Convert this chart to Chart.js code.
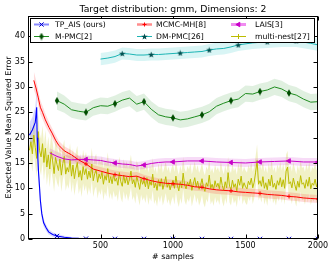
<!DOCTYPE html>
<html><head><meta charset="utf-8">
<script src="https://cdn.jsdelivr.net/npm/chart.js@4"></script>
<style>html,body{margin:0;padding:0;background:#fff}</style>
</head><body>
<canvas id="c" width="332" height="265"></canvas>
<script>
// ---------- DATA ----------
const xTicks = [500, 1000, 1500, 2000];
const yTicks = [0, 5, 10, 15, 20, 25, 30, 35, 40];
const seriesNames = ['TP_AIS (ours)', 'MCMC-MH[8]', 'LAIS[3]', 'M-PMC[2]', 'DM-PMC[26]', 'multi-nest[27]'];
const titleText = 'Target distribution: gmm, Dimensions: 2';
const xLabel = '# samples';
const yLabel = 'Expected Value Mean Squared Error';

const tpX   = [10, 30, 50, 60, 63, 68, 73, 80, 85, 95, 108, 125, 142, 170, 200, 250, 300, 350, 400, 500, 600, 800, 1000, 1200, 1400, 1600, 1800, 2000];
const tpY   = [20.5, 21.5, 23, 26, 20, 16, 13, 10, 7.7, 5, 3.2, 2.2, 1.4, 0.9, 0.6, 0.35, 0.2, 0.12, 0.08, 0.05, 0.04, 0.03, 0.03, 0.02, 0.02, 0.02, 0.02, 0.02];
const tpStd = [2.5, 2.5, 3, 3.5, 3, 2.5, 2, 1.6, 1.3, 1, 0.8, 0.6, 0.5, 0.45, 0.4, 0.3, 0.2, 0.15, 0.1, 0.06, 0.05, 0.04, 0.04, 0.03, 0.03, 0.03, 0.03, 0.03];
const tpMarks = [200, 400, 600, 800, 1000, 1200, 1400, 1600, 1800, 2000];

const mhX   = [40, 55, 70, 85, 100, 120, 145, 166, 190, 212, 250, 300, 350, 400, 450, 500, 550, 600, 650, 700, 750, 800, 850, 900, 950, 1000, 1050, 1100, 1150, 1200, 1250, 1300, 1350, 1400, 1450, 1500, 1550, 1600, 1650, 1700, 1750, 1800, 1850, 1900, 1950, 2000];
const mhY   = [31.3, 29.8, 28, 26, 25, 23.5, 22, 20.9, 19.5, 18.5, 17.4, 16.6, 15.6, 14.8, 13.8, 13.4, 13.0, 12.7, 12.5, 12.3, 12.4, 11.9, 11.5, 11.2, 11.0, 10.9, 10.8, 10.6, 10.3, 10.2, 9.9, 9.7, 9.6, 9.5, 9.3, 9.2, 9.1, 9.0, 8.8, 8.7, 8.6, 8.4, 8.3, 8.1, 8.0, 7.9];
const mhStd = [1.8, 1.6, 1.5, 1.4, 1.3, 1.2, 1.1, 1.0, 1.0, 0.9, 0.9, 0.9, 0.8, 0.8, 0.8, 0.8, 0.8, 0.8, 0.8, 0.8, 0.8, 0.8, 0.8, 0.8, 0.8, 0.8, 0.8, 0.8, 0.8, 0.8, 0.8, 0.8, 0.8, 0.8, 0.8, 0.8, 0.8, 0.8, 0.8, 0.8, 0.8, 0.8, 0.8, 0.8, 0.8, 0.8];
const mhMarks = [200, 400, 600, 800, 1000, 1200, 1400, 1600, 1800, 2000];

const laisX   = [150, 200, 250, 300, 350, 400, 450, 500, 550, 600, 650, 700, 750, 800, 850, 900, 950, 1000, 1100, 1200, 1300, 1400, 1500, 1600, 1700, 1800, 1900, 2000];
const laisY   = [17.0, 16.3, 15.8, 15.6, 15.7, 15.7, 15.6, 15.5, 15.2, 15.0, 14.8, 14.7, 14.4, 14.6, 14.9, 15.1, 15.2, 15.2, 15.4, 15.4, 15.2, 15.1, 15.0, 15.2, 15.3, 15.4, 15.2, 15.2];
const laisStd = [0.9, 0.9, 0.8, 0.8, 0.8, 0.8, 0.8, 0.8, 0.8, 0.8, 0.8, 0.8, 0.8, 0.8, 0.8, 0.8, 0.8, 0.8, 0.8, 0.8, 0.8, 0.8, 0.8, 0.8, 0.8, 0.8, 0.8, 0.8];
const laisMarks = [400, 600, 800, 1000, 1200, 1400, 1600, 1800, 2000];

const mpmcX   = [200, 250, 300, 350, 400, 450, 500, 550, 600, 650, 700, 750, 800, 850, 900, 950, 1000, 1050, 1100, 1150, 1200, 1250, 1300, 1350, 1400, 1450, 1500, 1550, 1600, 1650, 1700, 1750, 1800, 1850, 1900, 1950, 2000];
const mpmcY   = [27.3, 26.6, 25.5, 25.2, 25.0, 25.9, 26.3, 26.2, 26.7, 27.4, 27.8, 26.6, 27.1, 25.6, 24.5, 24.1, 23.9, 23.5, 23.7, 24.1, 24.5, 25.1, 26.2, 26.8, 27.3, 27.6, 28.7, 28.6, 29.1, 29.4, 30.0, 29.6, 28.8, 28.4, 27.6, 27.0, 27.1];
const mpmcStd = [1.8, 1.7, 1.6, 1.6, 1.6, 1.6, 1.6, 1.6, 1.6, 1.6, 1.6, 1.6, 1.6, 1.6, 1.6, 1.6, 1.6, 1.6, 1.6, 1.6, 1.6, 1.6, 1.6, 1.6, 1.6, 1.6, 1.6, 1.6, 1.6, 1.6, 1.6, 1.6, 1.6, 1.6, 1.6, 1.6, 1.6];
const mpmcMarks = [200, 400, 600, 800, 1000, 1200, 1400, 1600, 1800];

const dmX   = [500, 550, 600, 650, 700, 750, 800, 850, 900, 950, 1000, 1050, 1100, 1150, 1200, 1250, 1300, 1350, 1400, 1450, 1550, 1650, 1750, 1850, 1950, 2000];
const dmY   = [35.5, 35.7, 36.0, 36.6, 36.5, 36.3, 36.3, 36.4, 36.4, 36.5, 36.6, 36.7, 36.8, 36.9, 37.0, 37.3, 37.5, 37.6, 37.9, 38.3, 38.7, 38.9, 39.1, 39.1, 38.6, 38.3];
const dmStd = [1.2, 1.2, 1.2, 1.2, 1.2, 1.2, 1.2, 1.2, 1.2, 1.2, 1.2, 1.2, 1.2, 1.2, 1.2, 1.2, 1.2, 1.2, 1.2, 1.2, 1.2, 1.2, 1.2, 1.2, 1.2, 1.2];
const dmMarks = [650, 850, 1050, 1250, 1450, 1650, 1850];

// multi-nest: one value every 10 samples, from 10 to 2000
const mnStart = 10, mnStep = 10;
const mnY = [
 17.5, 19.2, 16.8, 20.5, 18.1, 15.9, 21.2, 17.4, 16.2, 18.8,
 15.1, 17.9, 14.2, 16.6, 13.8, 17.2, 15.4, 12.9, 16.1, 14.7,
 13.5, 15.8, 12.6, 14.9, 16.3, 12.8, 14.1, 13.2, 15.6, 12.4,
 14.6, 11.9, 13.8, 15.1, 12.2, 13.5, 11.6, 14.3, 12.7, 13.9,
 11.8, 13.4, 12.1, 14.8, 11.5, 12.9, 13.6, 11.2, 12.8, 11.9,
 13.2, 10.8, 12.5, 11.6, 13.9, 11.1, 12.3, 10.9, 12.7, 11.4,
 12.0, 10.6, 13.1, 11.3, 10.4, 12.6, 11.0, 12.2, 10.7, 11.8,
 13.4, 10.9, 11.7, 10.2, 12.4, 11.2, 9.8, 12.0, 10.8, 11.5,
 10.3, 12.1, 9.9, 11.4, 10.6, 12.8, 10.1, 11.0, 9.6, 11.7,
 10.4, 11.9, 9.8, 10.9, 12.3, 10.2, 11.1, 9.7, 10.8, 11.6,
 10.0, 12.4, 10.6, 9.5, 11.3, 10.1, 13.0, 10.7, 9.9, 11.2,
 10.5, 11.8, 9.6, 10.9, 12.1, 10.3, 11.4, 9.8, 10.6, 11.9,
 10.2, 9.4, 11.1, 10.4, 12.6, 10.0, 10.8, 9.7, 11.5, 10.3,
 11.0, 9.9, 12.2, 10.5, 9.6, 11.3, 10.1, 13.1, 10.4, 9.8,
 11.6, 10.2, 10.9, 9.5, 11.8, 10.6, 12.4, 10.0, 11.1, 10.3,
 9.9, 11.4, 10.7, 12.0, 10.1, 11.2, 13.2, 15.5, 10.8, 11.5,
 10.4, 12.3, 10.0, 11.1, 9.7, 11.8, 10.5, 12.6, 10.2, 11.0,
 9.8, 11.5, 10.6, 12.1, 10.3, 11.7, 10.0, 13.4, 14.2, 10.9,
 11.3, 10.1, 12.0, 10.7, 9.6, 11.4, 10.2, 12.5, 10.8, 11.1,
 10.0, 11.7, 10.4, 12.2, 9.9, 11.0, 10.6, 11.8, 10.3, 11.2
];
// std of multi-nest per block of 200 samples
const mnStdBlocks = [3.6, 3.3, 3.2, 3.2, 3.2, 3.2, 3.2, 3.2, 3.2, 3.2];
const mnMarks = [];

// ---------- BUILD ----------
const mnX = mnY.map((_, i) => mnStart + i * mnStep);
const mnStd = mnX.map(x => mnStdBlocks[Math.min(mnStdBlocks.length - 1, Math.floor((x - 1) / 200))]);

function makeImg(w, h, draw) {
  const c = document.createElement('canvas'); c.width = w; c.height = h;
  draw(c.getContext('2d')); return c;
}
const starImg = makeImg(7, 7, g => {
  g.fillStyle = '#004f4f'; g.beginPath();
  for (let i = 0; i < 10; i++) {
    const r = i % 2 ? 1.4 : 3.4, a = -Math.PI / 2 + i * Math.PI / 5;
    const px = 3.5 + r * Math.cos(a), py = 3.8 + r * Math.sin(a);
    i ? g.lineTo(px, py) : g.moveTo(px, py);
  }
  g.closePath(); g.fill();
});
const diamondImg = makeImg(6, 8, g => {
  g.fillStyle = '#004d00'; g.beginPath();
  g.moveTo(3, 0.3); g.lineTo(5.2, 4); g.lineTo(3, 7.7); g.lineTo(0.8, 4); g.closePath(); g.fill();
});

const series = [
  {name: seriesNames[0], xs: tpX, ys: tpY, sd: tpStd, marks: tpMarks, color: '#0000ff', band: 'rgba(0,0,255,0.15)', style: 'crossRot', r: 3, rot: 0, pc: '#0000cc', lw: 1.1, order: 0,
   legLine: '#8a8aff', legLw: 2},
  {name: seriesNames[1], xs: mhX, ys: mhY, sd: mhStd, marks: mhMarks, color: '#ff0000', band: 'rgba(255,0,0,0.14)', style: 'cross', r: 2, rot: 0, pc: '#ff0000', lw: 1, order: 1,
   legLine: '#ff8c8c', legLw: 2.5},
  {name: seriesNames[2], xs: laisX, ys: laisY, sd: laisStd, marks: laisMarks, color: '#c800c8', band: 'rgba(200,0,200,0.14)', style: 'triangle', r: 2.6, rot: -90, pc: '#c800c8', lw: 1, order: 2,
   legLine: '#f08cf0', legLw: 3},
  {name: seriesNames[3], xs: mpmcX, ys: mpmcY, sd: mpmcStd, marks: mpmcMarks, color: '#1e8c1e', band: 'rgba(0,128,0,0.12)', style: diamondImg, r: 3, rot: 0, pc: '#004d00', lw: 1, order: 3,
   legLine: '#1e8c1e', legLw: 1},
  {name: seriesNames[4], xs: dmX, ys: dmY, sd: dmStd, marks: dmMarks, color: '#1cb4b4', band: 'rgba(0,191,191,0.15)', style: starImg, r: 3, rot: 0, pc: '#005555', lw: 1, order: 4,
   legLine: '#1cb4b4', legLw: 1},
  {name: seriesNames[5], xs: mnX, ys: mnY, sd: mnStd, marks: mnMarks, color: '#bcbc00', band: 'rgba(191,191,0,0.22)', style: 'cross', r: 2.5, rot: 0, pc: '#bcbc00', lw: 1, order: 5,
   legLine: '#bcbc00', legLw: 1}
];

const datasets = [];
series.forEach((s, k) => {
  const up = datasets.length;
  datasets.push({label: '_u' + k, data: s.xs.map((x, i) => ({x, y: s.ys[i] + s.sd[i]})), borderWidth: 0, pointRadius: 0,
    fill: up + 1, backgroundColor: s.band, order: 20 + k});
  datasets.push({label: '_l' + k, data: s.xs.map((x, i) => ({x, y: Math.max(0, s.ys[i] - s.sd[i])})), borderWidth: 0, pointRadius: 0,
    fill: false, order: 20 + k});
  datasets.push({label: s.name, data: s.xs.map((x, i) => ({x, y: s.ys[i]})), borderColor: s.color, borderWidth: s.lw, fill: false,
    pointStyle: s.style, pointRotation: s.rot, pointBackgroundColor: s.pc, pointBorderColor: s.pc, pointBorderWidth: 1,
    pointRadius: c => (c.raw && s.marks.includes(c.raw.x)) ? s.r : 0, order: s.order});
});

const FONT = 'DejaVu Sans';
const deco = {
  id: 'deco',
  afterDraw(chart) {
    const {ctx, chartArea: a, scales: {x, y}} = chart;
    const L = Math.round(a.left) + 0.5, R = Math.round(a.right) - 0.5, T = Math.round(a.top) + 0.5, B = Math.round(a.bottom) - 0.5;
    ctx.save();
    ctx.strokeStyle = '#000'; ctx.lineWidth = 1;
    ctx.beginPath();
    xTicks.forEach(v => { const p = Math.round(x.getPixelForValue(v)) + 0.5; ctx.moveTo(p, B); ctx.lineTo(p, B - 4); ctx.moveTo(p, T); ctx.lineTo(p, T + 4); });
    yTicks.forEach(v => { const p = Math.round(y.getPixelForValue(v)) + 0.5; ctx.moveTo(L, p); ctx.lineTo(L + 4, p); ctx.moveTo(R, p); ctx.lineTo(R - 4, p); });
    ctx.stroke();
    ctx.strokeRect(L, T, R - L, B - T);

    // tick labels
    ctx.fillStyle = '#000';
    ctx.font = '8px "' + FONT + '"';
    ctx.textAlign = 'right'; ctx.textBaseline = 'middle';
    yTicks.forEach(v => ctx.fillText(String(v), a.left - 3, y.getPixelForValue(v)));
    ctx.textAlign = 'center'; ctx.textBaseline = 'top';
    xTicks.forEach(v => ctx.fillText(String(v), x.getPixelForValue(v), a.bottom + 3));

    // legend
    const bx = 30.5, by = 18.5, bw = 284, bh = 24;
    ctx.fillStyle = '#fff'; ctx.fillRect(bx, by, bw, bh); ctx.strokeRect(bx, by, bw, bh);
    const colLine = [34, 137, 231], colText = [55, 156, 255], rowY = [24.5, 36.5];
    ctx.font = '7.7px "' + FONT + '"'; ctx.textBaseline = 'middle'; ctx.textAlign = 'left';
    series.forEach((s, k) => {
      const col = k % 3, row = Math.floor(k / 3);
      const x0 = colLine[col], x1 = x0 + 15, yy = rowY[row];
      ctx.strokeStyle = s.legLine; ctx.lineWidth = s.legLw;
      ctx.beginPath(); ctx.moveTo(x0, yy); ctx.lineTo(x1, yy); ctx.stroke();
      ctx.fillStyle = s.pc; ctx.strokeStyle = s.pc; ctx.lineWidth = 1;
      Chart.helpers.drawPoint(ctx, {pointStyle: s.style, radius: s.r, rotation: s.rot, borderWidth: 1}, (x0 + x1) / 2, yy);
      ctx.fillStyle = '#000';
      ctx.fillText(s.name, colText[col], yy + 0.5);
    });

    // texts
    ctx.fillStyle = '#000'; ctx.textAlign = 'center'; ctx.textBaseline = 'alphabetic';
    ctx.font = '9.3px "' + FONT + '"';
    ctx.fillText(titleText, (a.left + a.right) / 2, 11.8);
    ctx.font = '7.9px "' + FONT + '"';
    ctx.fillText(xLabel, (a.left + a.right) / 2, 258.5);
    ctx.save();
    ctx.translate(11, (a.top + a.bottom) / 2); ctx.rotate(-Math.PI / 2);
    ctx.fillText(yLabel, 0, 0);
    ctx.restore();
    ctx.restore();
  }
};

new Chart(document.getElementById('c'), {
  type: 'line',
  data: {datasets},
  options: {
    responsive: false, animation: false, devicePixelRatio: 1,
    layout: {padding: {top: 16, right: 14, left: 0, bottom: 0}},
    elements: {line: {tension: 0}},
    plugins: {legend: {display: false}, tooltip: {enabled: false}, title: {display: false}},
    scales: {
      x: {type: 'linear', position: 'bottom', min: 0, max: 2000, grid: {display: false}, border: {display: false},
        ticks: {display: false},
        afterBuildTicks: s => { s.ticks = xTicks.map(v => ({value: v})); },
        afterFit: s => { s.height = 26; }},
      y: {type: 'linear', position: 'left', min: 0, max: 44, grid: {display: false}, border: {display: false},
        ticks: {display: false},
        afterBuildTicks: s => { s.ticks = yTicks.map(v => ({value: v})); },
        afterFit: s => { s.width = 28; }}
    }
  },
  plugins: [deco]
});
</script>
</body></html>
